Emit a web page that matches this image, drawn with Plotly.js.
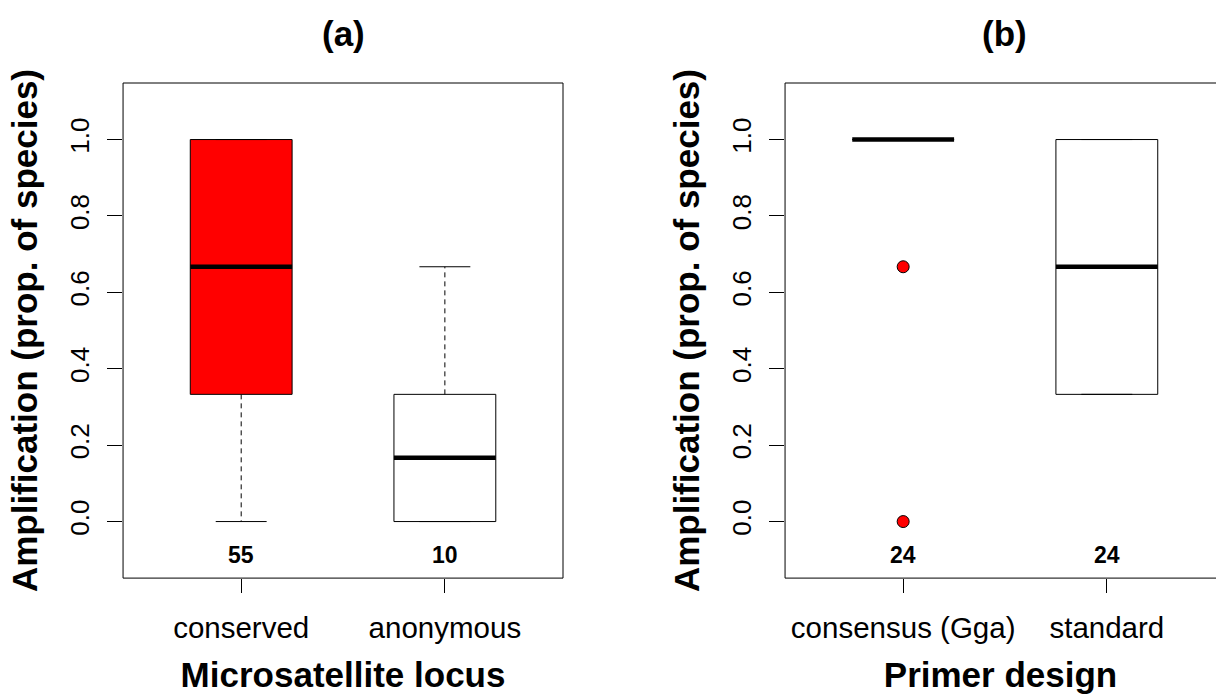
<!DOCTYPE html>
<html>
<head>
<meta charset="utf-8">
<script src="https://cdn.plot.ly/plotly-3.0.1.min.js"></script>
<style>html,body{margin:0;padding:0;background:#fff;}#chart{width:1216px;height:694px;}</style>
</head>
<body>
<div id="chart"></div>
<script>
// ---- Panel (a): Microsatellite locus ----
const categoriesA = ['conserved', 'anonymous'];
const countsA = [55, 10];
const lowA = [0.0, 0.0];
const q1A = [0.333, 0.0];
const medA = [0.667, 0.167];
const q3A = [1.0, 0.333];
const highA = [1.0, 0.667];
const outliersA = [[], []];

// ---- Panel (b): Primer design ----
const categoriesB = ['consensus (Gga)', 'standard'];
const countsB = [24, 24];
const lowB = [1.0, 0.333];
const q1B = [1.0, 0.333];
const medB = [1.0, 0.667];
const q3B = [1.0, 1.0];
const highB = [1.0, 1.0];
const outliersB = [[0.667, 0.0], []];

const yTicks = [0, 0.2, 0.4, 0.6, 0.8, 1.0];

const FONT = '"Liberation Sans", Arial, Helvetica, sans-serif';
const RED = '#FF0000';
const fillsA = [RED, '#FFFFFF'];
const fillsB = [RED, '#FFFFFF'];
const HALF = 0.25;     // half box width (x units)
const STAPLE = 0.125;  // half staple width

function panelTraces(low, q1, med, q3, high, outs, fills, xa, ya) {
  const tr = [];
  for (let i = 0; i < med.length; i++) {
    const x = i + 1;
    // box
    tr.push({type: 'scatter', mode: 'lines', xaxis: xa, yaxis: ya,
      x: [x - HALF, x + HALF, x + HALF, x - HALF, x - HALF],
      y: [q1[i], q1[i], q3[i], q3[i], q1[i]],
      fill: 'toself', fillcolor: fills[i],
      line: {color: '#000', width: 1}, hoverinfo: 'skip', showlegend: false});
    // whiskers (dashed)
    tr.push({type: 'scatter', mode: 'lines', xaxis: xa, yaxis: ya,
      x: [x, x, null, x, x], y: [q1[i], low[i], null, q3[i], high[i]],
      line: {color: '#000', width: 1, dash: '5px,4px'}, hoverinfo: 'skip', showlegend: false});
    // staples
    tr.push({type: 'scatter', mode: 'lines', xaxis: xa, yaxis: ya,
      x: [x - STAPLE, x + STAPLE, null, x - STAPLE, x + STAPLE],
      y: [low[i], low[i], null, high[i], high[i]],
      line: {color: '#000', width: 1}, hoverinfo: 'skip', showlegend: false});
    // median
    tr.push({type: 'scatter', mode: 'lines', xaxis: xa, yaxis: ya,
      x: [x - HALF, x + HALF], y: [med[i], med[i]],
      line: {color: '#000', width: 4.5}, hoverinfo: 'skip', showlegend: false});
    // outliers
    if (outs[i].length) {
      tr.push({type: 'scatter', mode: 'markers', xaxis: xa, yaxis: ya,
        x: outs[i].map(() => x), y: outs[i],
        marker: {color: RED, size: 12, line: {color: '#000', width: 1}},
        hoverinfo: 'skip', showlegend: false});
    }
  }
  return tr;
}

const data = [].concat(
  panelTraces(lowA, q1A, medA, q3A, highA, outliersA, fillsA, 'x', 'y'),
  panelTraces(lowB, q1B, medB, q3B, highB, outliersB, fillsB, 'x2', 'y2')
);

function yAxis(anchor) {
  return {
    anchor: anchor, domain: [0.167, 0.8804], range: [-0.148, 1.148],
    tickvals: yTicks, tickformat: '.1f', tickangle: -90,
    ticks: 'outside', ticklen: 15, tickwidth: 1, tickcolor: '#000',
    ticklabelstandoff: 8,
    tickfont: {family: FONT, size: 26, color: '#000'},
    showgrid: false, zeroline: false, showline: false,
    title: {text: '<b>Amplification (prop. of species)</b>', standoff: 16,
      font: {family: FONT, size: 35, color: '#000'}}
  };
}
function xAxis(anchor, domain, range, cats, title) {
  return {
    anchor: anchor, domain: domain, range: range,
    tickvals: [1, 2], ticktext: cats, tickangle: 0,
    ticks: 'outside', ticklen: 14, tickwidth: 1, tickcolor: '#000',
    ticklabelstandoff: 9,
    tickfont: {family: FONT, size: 29.5, color: '#000'},
    showgrid: false, zeroline: false, showline: false,
    title: {text: '<b>' + title + '</b>', standoff: 22,
      font: {family: FONT, size: 35, color: '#000'}}
  };
}

const annotations = [
  {text: '<b>(a)</b>', xref: 'paper', yref: 'paper', x: 0.2821, y: 0.9524,
   xanchor: 'center', yanchor: 'middle', showarrow: false,
   font: {family: FONT, size: 35, color: '#000'}},
  {text: '<b>(b)</b>', xref: 'paper', yref: 'paper', x: 0.8262, y: 0.9524,
   xanchor: 'center', yanchor: 'middle', showarrow: false,
   font: {family: FONT, size: 35, color: '#000'}}
];
countsA.forEach((n, i) => annotations.push({text: '<b>' + n + '</b>', xref: 'x', yref: 'y',
  x: i + 1, y: -0.088, showarrow: false, xanchor: 'center', yanchor: 'middle',
  font: {family: FONT, size: 23, color: '#000'}}));
countsB.forEach((n, i) => annotations.push({text: '<b>' + n + '</b>', xref: 'x2', yref: 'y2',
  x: i + 1, y: -0.088, showarrow: false, xanchor: 'center', yanchor: 'middle',
  font: {family: FONT, size: 23, color: '#000'}}));

const layout = {
  width: 1216, height: 694,
  margin: {l: 0, r: 0, t: 0, b: 0},
  paper_bgcolor: '#fff', plot_bgcolor: '#fff',
  showlegend: false,
  xaxis: xAxis('y', [0.1012, 0.463], [0.42, 2.58], categoriesA, 'Microsatellite locus'),
  yaxis: yAxis('x'),
  xaxis2: xAxis('y2', [0.6456, 1.0], [0.42, 2.536], categoriesB, 'Primer design'),
  yaxis2: yAxis('x2'),
  annotations: annotations,
  shapes: [
    {type: 'rect', xref: 'x domain', yref: 'y domain', x0: 0, x1: 1, y0: 0, y1: 1,
     line: {color: '#000', width: 1}, layer: 'above'},
    {type: 'rect', xref: 'x2 domain', yref: 'y2 domain', x0: 0, x1: 1.05, y0: 0, y1: 1,
     line: {color: '#000', width: 1}, layer: 'above'}
  ]
};

Plotly.newPlot('chart', data, layout, {staticPlot: true, displayModeBar: false});
</script>
</body>
</html>
